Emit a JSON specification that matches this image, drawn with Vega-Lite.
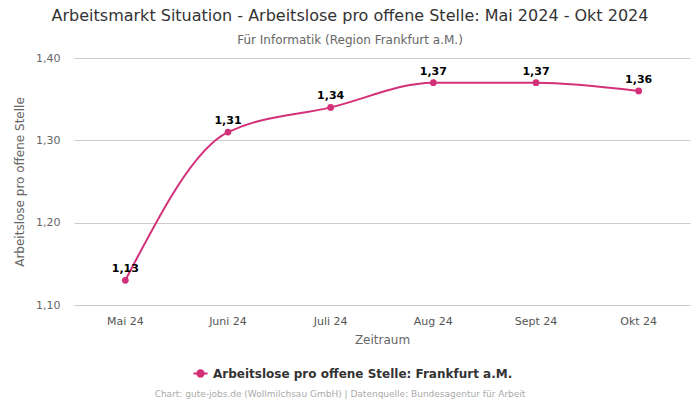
{
  "$schema": "https://vega.github.io/schema/vega-lite/v6.json",
  "autosize": "none",
  "width": 616,
  "height": 247,
  "padding": {"left": 74, "top": 58, "right": 10, "bottom": 95},
  "background": "white",
  "config": {
    "font": "DejaVu Sans",
    "view": {"stroke": null},
    "locale": {"number": {"decimal": ",", "thousands": ".", "grouping": [3], "currency": ["", " €"]}}
  },
  "title": {
    "text": "Arbeitsmarkt Situation - Arbeitslose pro offene Stelle: Mai 2024 - Okt 2024",
    "subtitle": "Für Informatik (Region Frankfurt a.M.)",
    "anchor": "middle",
    "dx": -32,
    "offset": 6,
    "fontSize": 16,
    "fontWeight": "normal",
    "color": "#333333",
    "subtitleFontSize": 12,
    "subtitleColor": "#666666",
    "subtitlePadding": 11
  },
  "data": {
    "values": [
      {"monat": "Mai 24", "wert": 1.13, "serie": "Arbeitslose pro offene Stelle: Frankfurt a.M."},
      {"monat": "Juni 24", "wert": 1.31, "serie": "Arbeitslose pro offene Stelle: Frankfurt a.M."},
      {"monat": "Juli 24", "wert": 1.34, "serie": "Arbeitslose pro offene Stelle: Frankfurt a.M."},
      {"monat": "Aug 24", "wert": 1.37, "serie": "Arbeitslose pro offene Stelle: Frankfurt a.M."},
      {"monat": "Sept 24", "wert": 1.37, "serie": "Arbeitslose pro offene Stelle: Frankfurt a.M."},
      {"monat": "Okt 24", "wert": 1.36, "serie": "Arbeitslose pro offene Stelle: Frankfurt a.M."}
    ]
  },
  "encoding": {
    "x": {
      "field": "monat", "type": "ordinal", "sort": null,
      "scale": {"type": "band", "paddingInner": 0, "paddingOuter": 0},
      "axis": {
        "title": "Zeitraum", "labelAngle": 0, "domain": false, "ticks": false,
        "labelFontSize": 11, "labelColor": "#555555", "labelPadding": 10,
        "titleFontSize": 12, "titleFontWeight": "normal", "titleColor": "#666666", "titlePadding": 8
      }
    },
    "y": {
      "field": "wert", "type": "quantitative",
      "scale": {"domain": [1.1, 1.4], "nice": false, "zero": false},
      "axis": {
        "title": "Arbeitslose pro offene Stelle", "values": [1.1, 1.2, 1.3, 1.4], "format": ".2f",
        "domain": false, "ticks": false, "gridColor": "#cccccc",
        "labelFontSize": 11, "labelColor": "#666666", "labelPadding": 14,
        "titleFontSize": 12, "titleFontWeight": "normal", "titleColor": "#666666", "titlePadding": 9
      }
    }
  },
  "layer": [
    {
      "mark": {"type": "line", "interpolate": "monotone", "strokeWidth": 2},
      "encoding": {
        "color": {
          "field": "serie", "type": "nominal",
          "scale": {"range": ["#d3307a"]},
          "legend": {
            "orient": "none", "legendX": 81, "legendY": 307,
            "title": "Chart: gute-jobs.de (Wollmilchsau GmbH) | Datenquelle: Bundesagentur für Arbeit",
            "titleOrient": "bottom", "titleAnchor": "middle", "titleFontSize": 9,
            "titleFontWeight": "normal", "titleColor": "#aaaaaa", "titlePadding": 9, "titleLimit": 600,
            "labelFontSize": 12, "labelFontWeight": "bold", "labelColor": "#333333", "labelLimit": 600,
            "symbolType": "M-1,0L1,0M-0.45,0A0.45,0.45 0 1,0 0.45,0A0.45,0.45 0 1,0 -0.45,0Z",
            "symbolSize": 200, "symbolStrokeWidth": 2, "symbolFillColor": "#d3307a", "symbolStrokeColor": "#d3307a",
            "symbolOffset": 24
          }
        }
      }
    },
    {
      "mark": {"type": "point", "filled": true, "size": 45, "opacity": 1, "color": "#d3307a"},
      "encoding": {}
    },
    {
      "mark": {"type": "text", "dy": -11, "fontSize": 11, "fontWeight": "bold", "color": "#000000"},
      "encoding": {"text": {"field": "wert", "type": "quantitative", "format": ".2f"}}
    }
  ]
}
